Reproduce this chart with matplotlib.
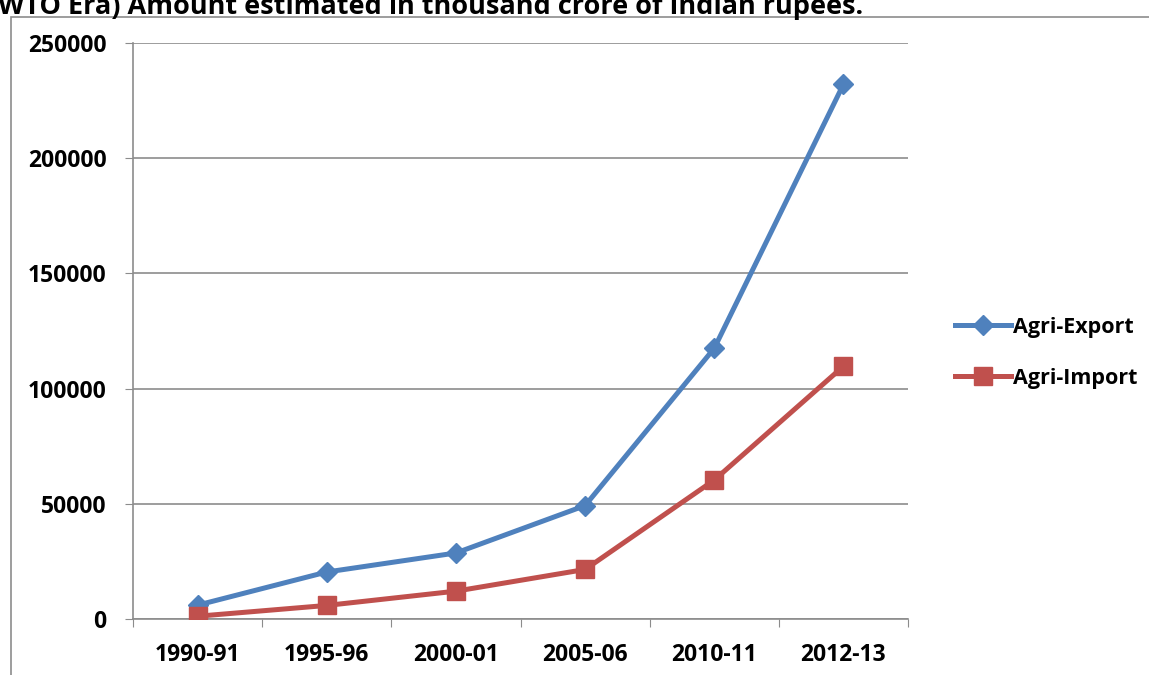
import matplotlib
matplotlib.use("Agg")
import matplotlib.pyplot as plt
from matplotlib.patches import Rectangle
import numpy as np

categories = ["1990-91", "1995-96", "2000-01", "2005-06", "2010-11", "2012-13"]
agri_export = [6013, 20398, 28657, 49217, 117500, 232041]
agri_import = [1206, 5890, 12086, 21499, 60300, 109700]
yticks = [0, 50000, 100000, 150000, 200000, 250000]

plt.rcParams['font.family'] = ['Open Sans', 'DejaVu Sans']
plt.rcParams['font.weight'] = 'bold'

W, H = 1149, 675
fig = plt.figure(figsize=(W/100, H/100), dpi=100)

def fx(px): return px / W
def fy(py): return 1 - py / H

# chart border (gray), extending off right and bottom
fig.patches.append(Rectangle((fx(11), fy(700)), fx(1200), fy(17) - fy(700),
                             transform=fig.transFigure, fill=False,
                             edgecolor='#8c8c8c', linewidth=1.2))

title = fig.text(fx(-2), fy(14), "WTO Era) Amount estimated in thousand crore of Indian rupees.",
                 fontsize=19.5, fontweight='bold', ha='left', va='baseline')

ax = fig.add_axes([fx(133), fy(619), fx(908) - fx(133), fy(43) - fy(619)])
x = np.arange(len(categories))
ax.plot(x, agri_export, color='#4F81BD', lw=3.6, marker='D', markersize=10,
        label='Agri-Export', zorder=3)
ax.plot(x, agri_import, color='#C0504D', lw=3.6, marker='s', markersize=13,
        label='Agri-Import', zorder=3)

ax.set_xlim(-0.5, len(categories) - 0.5)
ax.set_ylim(0, 250000)
ax.set_yticks(yticks)
ax.set_yticklabels([str(v) for v in yticks], fontsize=16.5, fontweight='bold')
ax.set_xticks(np.arange(-0.5, len(categories), 1.0))
ax.set_xticklabels([])
ax.set_xticks(x, minor=True)
ax.set_xticklabels(categories, minor=True, fontsize=16.5, fontweight='bold')
ax.tick_params(axis='x', which='major', length=6, direction='out', color='#8c8c8c')
ax.tick_params(axis='x', which='minor', length=0, pad=17)
ax.tick_params(axis='y', length=6, direction='out', color='#8c8c8c', pad=13)
ax.grid(axis='y', color='#8c8c8c', lw=1.2)
ax.set_axisbelow(True)
for s in ['top', 'right']:
    ax.spines[s].set_visible(False)
for s in ['left', 'bottom']:
    ax.spines[s].set_color('#8c8c8c')
    ax.spines[s].set_linewidth(1.2)

leg = fig.legend(loc='upper left', bbox_to_anchor=(fx(944), fy(306)), frameon=False,
                 prop={'size': 15.5, 'weight': 'bold'}, handlelength=2.6,
                 handletextpad=0.1, labelspacing=1.4, borderpad=0)

fig.savefig("out.png", dpi=100)
